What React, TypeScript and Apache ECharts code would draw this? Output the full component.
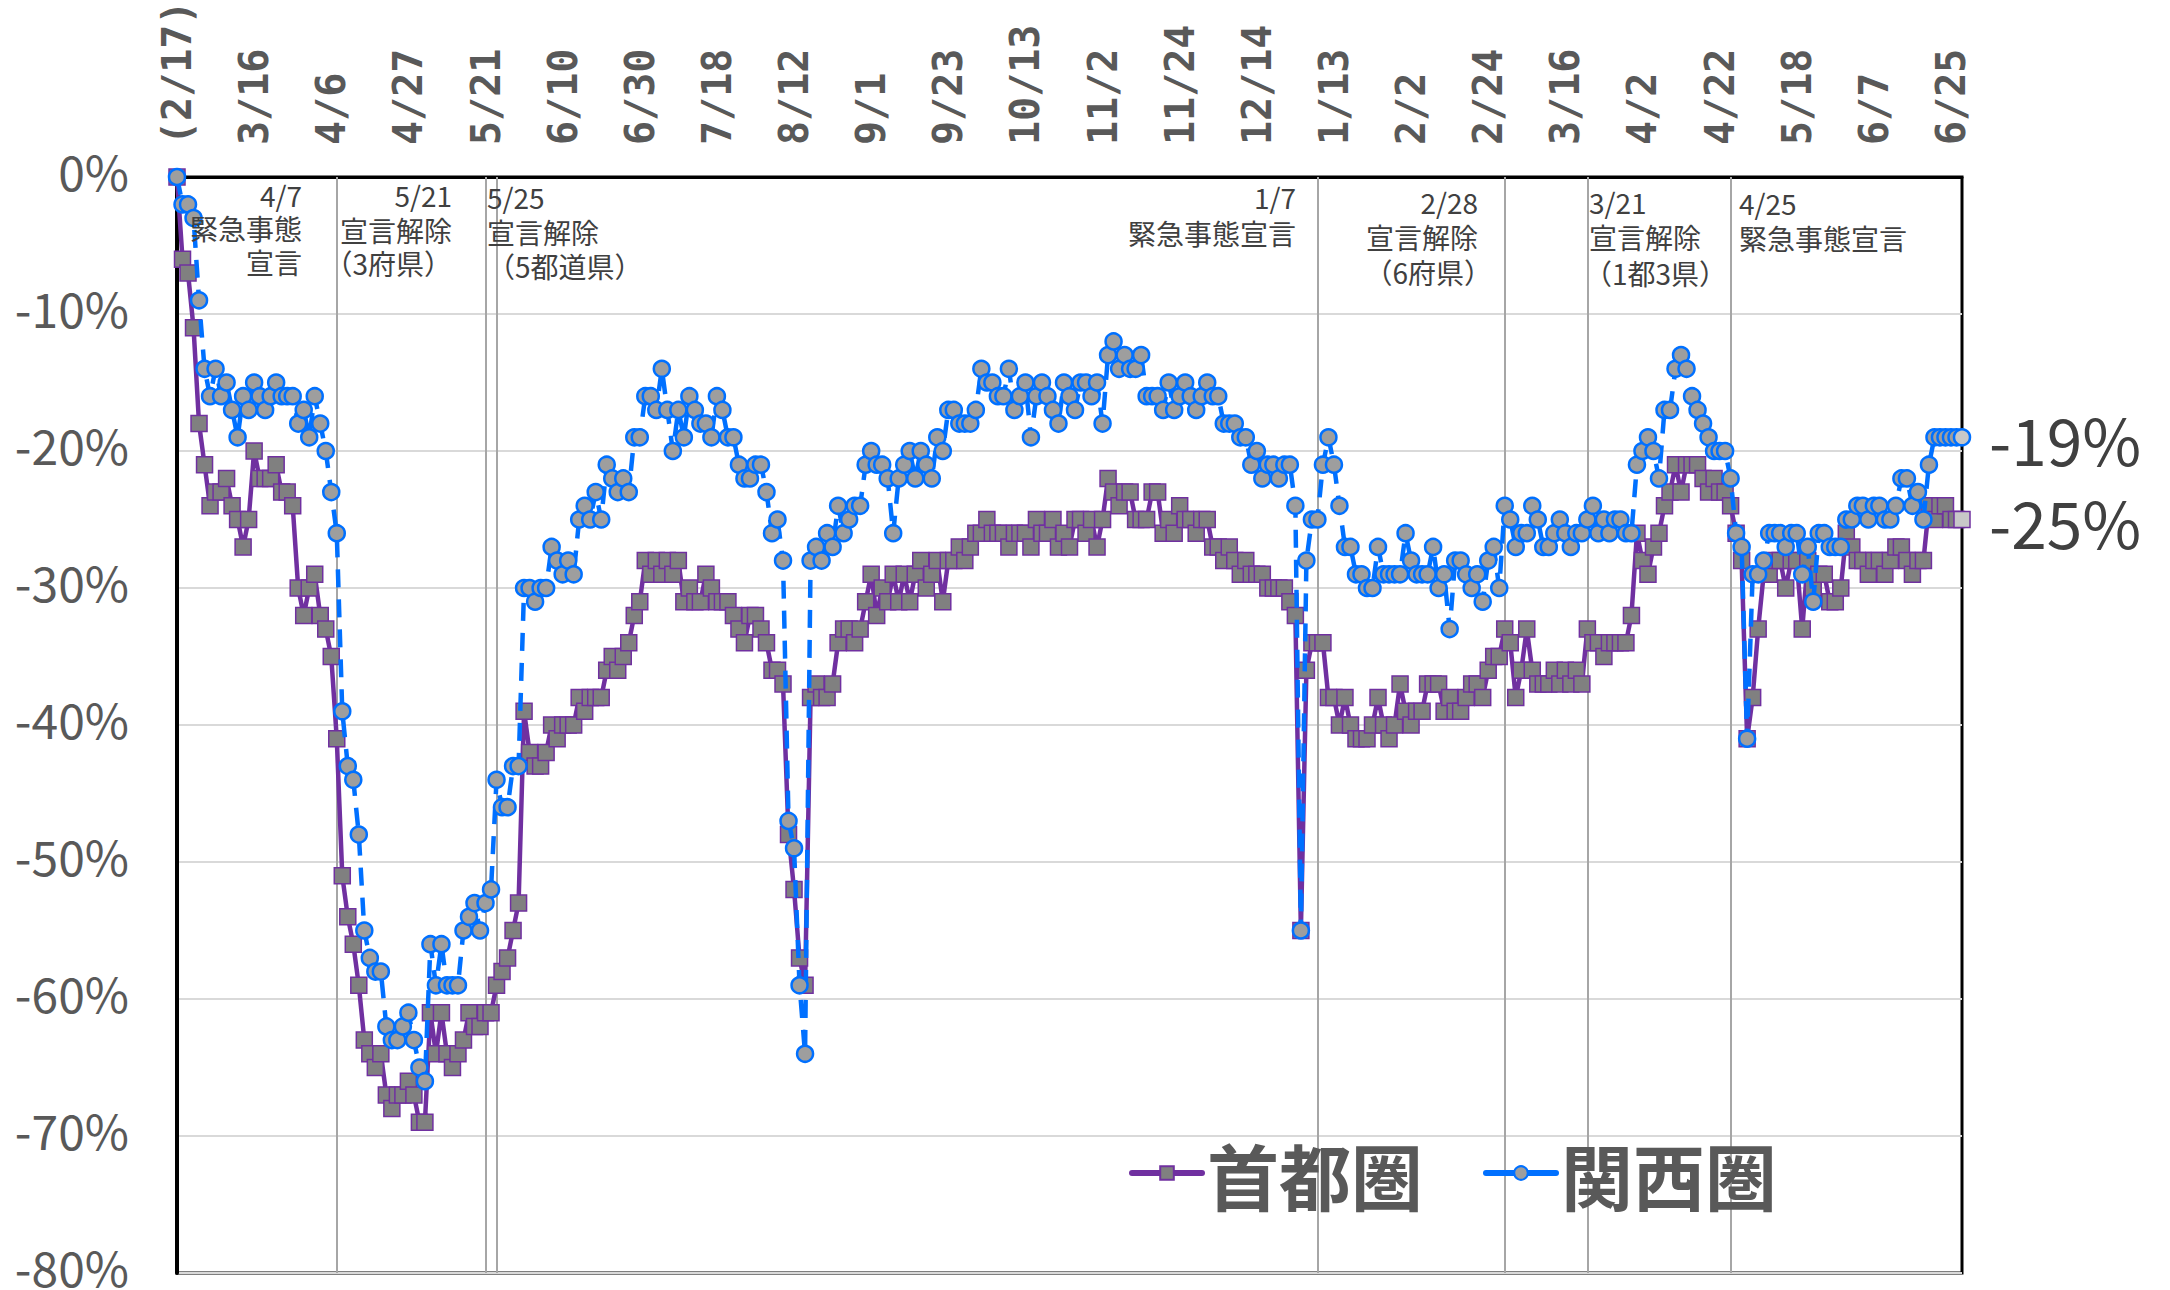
import React, { useEffect, useRef } from "react";
import * as echarts from "echarts";

const tickLabels = ["(2/17)", "3/16", "4/6", "4/27", "5/21", "6/10", "6/30", "7/18", "8/12", "9/1", "9/23", "10/13", "11/2", "11/24", "12/14", "1/13", "2/2", "2/24", "3/16", "4/2", "4/22", "5/18", "6/7", "6/25"];
const tickEvery = 14;

// 首都圏 (% change), one value per business day
const shutoken = [
  0, -6, -7, -11, -18, -21, -24, -23, -23, -22,
  -24, -25, -27, -25, -20, -22, -22, -22, -21, -23,
  -23, -24, -30, -32, -30, -29, -32, -33, -35, -41,
  -51, -54, -56, -59, -63, -64, -65, -64, -67, -68,
  -67, -67, -66, -67, -69, -69, -61, -64, -61, -64,
  -65, -64, -63, -61, -62, -62, -61, -61, -59, -58,
  -57, -55, -53, -39, -42, -43, -43, -42, -40, -41,
  -40, -40, -40, -38, -39, -38, -38, -38, -36, -35,
  -36, -35, -34, -32, -31, -28, -29, -28, -29, -28,
  -29, -28, -31, -30, -31, -31, -29, -30, -31, -31,
  -31, -32, -33, -34, -32, -32, -33, -34, -36, -36,
  -37, -48, -52, -57, -59, -38, -37, -38, -38, -37,
  -34, -33, -33, -34, -33, -31, -29, -32, -30, -31,
  -29, -31, -29, -31, -29, -28, -30, -29, -28, -31,
  -28, -28, -27, -28, -27, -26, -26, -25, -26, -26,
  -26, -27, -26, -26, -26, -27, -25, -26, -26, -25,
  -27, -26, -27, -25, -25, -26, -25, -27, -25, -22,
  -23, -24, -23, -23, -25, -25, -25, -23, -23, -26,
  -25, -26, -24, -25, -25, -26, -25, -25, -27, -27,
  -28, -27, -28, -29, -28, -29, -29, -29, -30, -30,
  -30, -30, -31, -32, -55, -36, -34, -34, -34, -38,
  -38, -40, -38, -40, -41, -41, -41, -40, -38, -40,
  -41, -40, -37, -39, -40, -39, -39, -37, -37, -37,
  -39, -38, -39, -39, -38, -37, -37, -38, -36, -35,
  -35, -33, -34, -38, -36, -33, -36, -37, -37, -37,
  -36, -37, -36, -37, -36, -37, -33, -34, -34, -35,
  -34, -34, -34, -34, -32, -26, -28, -29, -27, -26,
  -24, -23, -21, -23, -21, -21, -21, -22, -23, -22,
  -23, -23, -24, -26, -28, -41, -38, -33, -29, -29,
  -28, -28, -30, -28, -28, -33, -28, -30, -29, -29,
  -31, -31, -30, -26, -27, -28, -28, -29, -28, -28,
  -29, -28, -27, -27, -28, -29, -28, -28, -24, -25,
  -24, -24, -25, -25, -25,
];

// 関西圏 (% change)
const kansai = [
  0, -2, -2, -3, -9, -14, -16, -14, -16, -15,
  -17, -19, -16, -17, -15, -16, -17, -16, -15, -16,
  -16, -16, -18, -17, -19, -16, -18, -20, -23, -26,
  -39, -43, -44, -48, -55, -57, -58, -58, -62, -63,
  -63, -62, -61, -63, -65, -66, -56, -59, -56, -59,
  -59, -59, -55, -54, -53, -55, -53, -52, -44, -46,
  -46, -43, -43, -30, -30, -31, -30, -30, -27, -28,
  -29, -28, -29, -25, -24, -25, -23, -25, -21, -22,
  -23, -22, -23, -19, -19, -16, -16, -17, -14, -17,
  -20, -17, -19, -16, -17, -18, -18, -19, -16, -17,
  -19, -19, -21, -22, -22, -21, -21, -23, -26, -25,
  -28, -47, -49, -59, -64, -28, -27, -28, -26, -27,
  -24, -26, -25, -24, -24, -21, -20, -21, -21, -22,
  -26, -22, -21, -20, -22, -20, -21, -22, -19, -20,
  -17, -17, -18, -18, -18, -17, -14, -15, -15, -16,
  -16, -14, -17, -16, -15, -19, -16, -15, -16, -17,
  -18, -15, -16, -17, -15, -15, -16, -15, -18, -13,
  -12, -14, -13, -14, -14, -13, -16, -16, -16, -17,
  -15, -17, -16, -15, -16, -17, -16, -15, -16, -16,
  -18, -18, -18, -19, -19, -21, -20, -22, -21, -21,
  -22, -21, -21, -24, -55, -28, -25, -25, -21, -19,
  -21, -24, -27, -27, -29, -29, -30, -30, -27, -29,
  -29, -29, -29, -26, -28, -29, -29, -29, -27, -30,
  -29, -33, -28, -28, -29, -30, -29, -31, -28, -27,
  -30, -24, -25, -27, -26, -26, -24, -25, -27, -27,
  -26, -25, -26, -27, -26, -26, -25, -24, -26, -25,
  -26, -25, -25, -26, -26, -21, -20, -19, -20, -22,
  -17, -17, -14, -13, -14, -16, -17, -18, -19, -20,
  -20, -20, -22, -26, -27, -41, -29, -29, -28, -26,
  -26, -26, -27, -26, -26, -29, -27, -31, -26, -26,
  -27, -27, -27, -25, -25, -24, -24, -25, -24, -24,
  -25, -25, -24, -22, -22, -24, -23, -25, -21, -19,
  -19, -19, -19, -19, -19,
];

// category index of each event (vertical reference lines)
const eventIndex = [29, 56, 58, 207, 241, 256, 282];
const endLabels = ["-19%", "-25%"];

const categories = shutoken.map((_, i) => String(i));

export default function App() {
  const ref = useRef<HTMLDivElement>(null);

  useEffect(() => {
    if (!ref.current) return;
    const chart = echarts.init(ref.current, undefined, { renderer: "svg" });
    const jp = '"Noto Sans CJK JP", "Noto Sans", sans-serif';
    const annColor = "#404040";
    const ann = (text: string, x: number, y: number, align: string) => ({
      type: "text",
      x,
      y,
      z: 10,
      style: {
        text,
        fill: annColor,
        fontSize: 28,
        lineHeight: 30,
        fontFamily: jp,
        textAlign: align,
        align,
        textVerticalAlign: "middle",
        verticalAlign: "middle",
      },
    });
    const endLabel = (text: string, y: number) => ({
      type: "text",
      x: 1989,
      y,
      style: {
        text,
        fill: annColor,
        fontSize: 64,
        fontFamily: jp,
        textAlign: "left",
        align: "left",
        textVerticalAlign: "middle",
        verticalAlign: "middle",
      },
    });
    const lastStyled = (arr: number[], color: string) =>
      arr.map((v, i) => (i === arr.length - 1 ? { value: v, itemStyle: { color } } : v));

    chart.setOption({
      animation: false,
      backgroundColor: "#ffffff",
      grid: {
        left: 177,
        top: 177,
        width: 1785,
        height: 1096,
        show: true,
        borderColor: "#000000",
        borderWidth: 3,
        backgroundColor: "transparent",
        containLabel: false,
        outerBoundsMode: "none",
      },
      xAxis: {
        type: "category",
        position: "top",
        boundaryGap: false,
        data: categories,
        axisTick: { show: false },
        axisLine: { show: true, lineStyle: { color: "#000000", width: 3 } },
        splitLine: { show: false },
        axisLabel: {
          interval: tickEvery - 1,
          rotate: 90,
          margin: 32,
          fontFamily: '"DejaVu Sans Mono", monospace',
          fontWeight: "bold",
          fontSize: 40,
          color: "#595959",
          formatter: (_v: string, idx: number) =>
            idx % tickEvery === 0 ? tickLabels[idx / tickEvery] ?? "" : "",
        },
      },
      yAxis: {
        type: "value",
        min: -80,
        max: 0,
        interval: 10,
        axisLine: { show: true, lineStyle: { color: "#000000", width: 4 } },
        axisTick: { show: false },
        splitLine: { show: true, lineStyle: { color: "#D9D9D9", width: 2 } },
        axisLabel: {
          formatter: "{value}%",
          fontFamily: jp,
          fontSize: 48,
          lineHeight: 14,
          verticalAlign: "bottom",
          color: "#595959",
          margin: 48,
        },
      },
      legend: {
        data: ["首都圏", "関西圏"],
        left: 1124,
        top: 1130,
        itemWidth: 70,
        itemHeight: 17,
        itemGap: 60,
        lineStyle: { width: 6, type: "solid", cap: "round" },
        textStyle: {
          fontFamily: jp,
          fontSize: 72,
          fontWeight: "bold",
          color: "#595959",
          lineHeight: 76,
        },
      },
      series: [
        {
          name: "首都圏",
          type: "line",
          data: lastStyled(shutoken, "#C8C8C8"),
          symbol: "rect",
          symbolSize: 16,
          showAllSymbol: true,
          clip: false,
          z: 3,
          lineStyle: { color: "#7030A0", width: 4.5 },
          itemStyle: { color: "#808080", borderColor: "#7030A0", borderWidth: 1.5 },
          markLine: {
            z: 1,
            silent: true,
            symbol: ["none", "none"],
            label: { show: false },
            lineStyle: { color: "#A6A6A6", width: 2, type: "solid" },
            data: eventIndex.map((i) => ({ xAxis: i })),
          },
        },
        {
          name: "関西圏",
          type: "line",
          data: lastStyled(kansai, "#C8C8C8"),
          symbol: "circle",
          symbolSize: 16,
          showAllSymbol: true,
          clip: false,
          z: 4,
          lineStyle: { color: "#0070FF", width: 4.5, type: [18, 12] },
          itemStyle: { color: "#9E9E9E", borderColor: "#0070FF", borderWidth: 2.5 },
        },
      ],
      graphic: [
        ann("4/7", 302, 195, "right"),
        ann("緊急事態", 302, 228, "right"),
        ann("宣言", 302, 262, "right"),
        ann("5/21", 452, 195, "right"),
        ann("宣言解除", 452, 230, "right"),
        ann("（3府県）", 452, 263, "right"),
        ann("5/25", 487, 197, "left"),
        ann("宣言解除", 487, 232, "left"),
        ann("（5都道県）", 487, 266, "left"),
        ann("1/7", 1296, 197, "right"),
        ann("緊急事態宣言", 1296, 233, "right"),
        ann("2/28", 1478, 202, "right"),
        ann("宣言解除", 1478, 237, "right"),
        ann("（6府県）", 1492, 272, "right"),
        ann("3/21", 1589, 202, "left"),
        ann("宣言解除", 1589, 237, "left"),
        ann("（1都3県）", 1584, 273, "left"),
        ann("4/25", 1739, 203, "left"),
        ann("緊急事態宣言", 1739, 238, "left"),
        endLabel(endLabels[0], 438),
        endLabel(endLabels[1], 521),
      ],
    });
    return () => chart.dispose();
  }, []);

  return (
    <div
      ref={ref}
      style={{ position: "fixed", left: 0, top: 0, width: 2170, height: 1290, background: "#fff" }}
    />
  );
}
